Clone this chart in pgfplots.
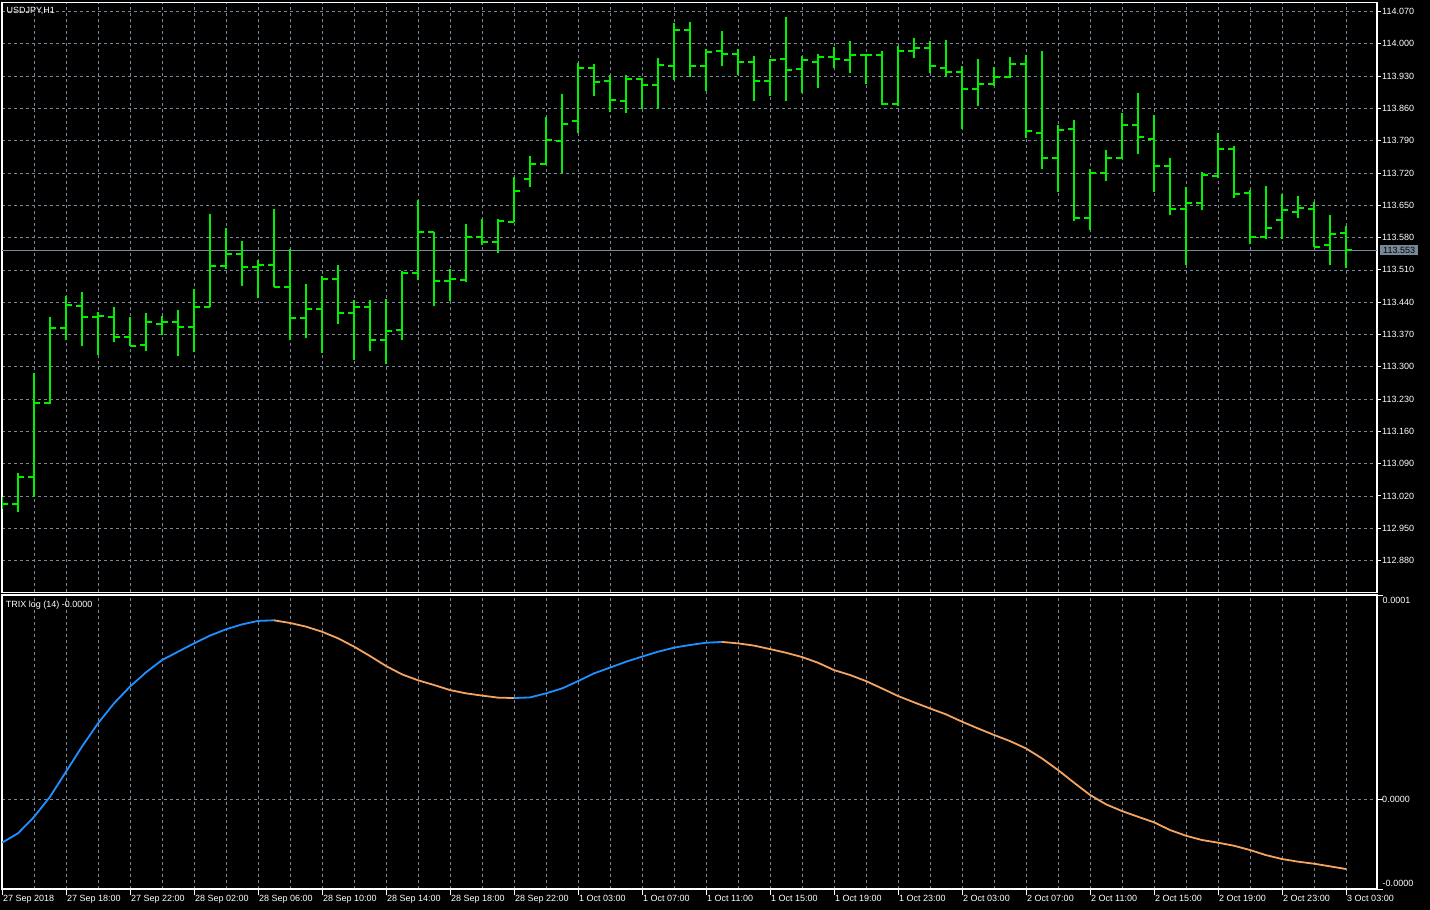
\documentclass[border=0pt]{standalone}
\usepackage{fontspec}
\setmainfont{Liberation Sans}
\usepackage{pgfplots}
\usepackage{pgfplotstable}
\pgfplotsset{compat=1.18}

\definecolor{barcol}{RGB}{0,240,0}
\definecolor{gridcol}{RGB}{119,136,153}
\definecolor{trixup}{RGB}{30,144,255}
\definecolor{trixdn}{RGB}{244,164,96}

% USDJPY H1 bars: index, open, high, low, close
\pgfplotstableread{
k o h l c
0 113.003 113.017 112.992 113.003
1 113.003 113.069 112.986 113.062
2 113.062 113.286 113.017 113.222
3 113.222 113.408 113.219 113.383
4 113.383 113.453 113.358 113.435
5 113.432 113.462 113.344 113.407
6 113.407 113.418 113.326 113.411
7 113.408 113.430 113.353 113.365
8 113.365 113.408 113.345 113.345
9 113.348 113.417 113.335 113.396
10 113.393 113.410 113.368 113.397
11 113.396 113.423 113.324 113.387
12 113.387 113.468 113.332 113.430
13 113.430 113.631 113.430 113.519
14 113.519 113.600 113.512 113.545
15 113.545 113.572 113.475 113.517
16 113.517 113.531 113.450 113.521
17 113.521 113.642 113.473 113.474
18 113.474 113.555 113.358 113.405
19 113.405 113.480 113.363 113.426
20 113.426 113.497 113.330 113.490
21 113.490 113.520 113.393 113.417
22 113.417 113.445 113.314 113.430
23 113.430 113.445 113.335 113.357
24 113.358 113.448 113.305 113.378
25 113.380 113.508 113.358 113.504
26 113.504 113.661 113.488 113.592
27 113.592 113.593 113.432 113.486
28 113.486 113.511 113.442 113.490
29 113.489 113.610 113.484 113.582
30 113.582 113.621 113.563 113.571
31 113.571 113.621 113.546 113.616
32 113.614 113.711 113.614 113.680
33 113.708 113.757 113.690 113.740
34 113.740 113.842 113.737 113.792
35 113.790 113.891 113.719 113.827
36 113.833 113.958 113.807 113.948
37 113.948 113.956 113.886 113.917
38 113.920 113.933 113.852 113.878
39 113.876 113.932 113.849 113.924
40 113.924 113.926 113.859 113.911
41 113.911 113.969 113.859 113.955
42 113.952 114.045 113.922 114.029
43 114.029 114.048 113.929 113.952
44 113.952 113.989 113.898 113.983
45 113.985 114.028 113.951 113.978
46 113.978 113.989 113.932 113.961
47 113.961 113.974 113.877 113.920
48 113.920 113.968 113.886 113.966
49 113.967 114.058 113.877 113.944
50 113.946 113.973 113.893 113.964
51 113.961 113.977 113.905 113.972
52 113.972 113.993 113.947 113.967
53 113.964 114.006 113.937 113.976
54 113.976 113.979 113.912 113.976
55 113.976 113.985 113.868 113.869
56 113.869 113.995 113.866 113.985
57 113.985 114.013 113.970 113.990
58 113.991 114.007 113.936 113.951
59 113.948 114.008 113.929 113.940
60 113.940 113.952 113.815 113.903
61 113.903 113.967 113.866 113.914
62 113.914 113.950 113.909 113.928
63 113.928 113.971 113.925 113.956
64 113.956 113.975 113.796 113.810
65 113.807 113.985 113.729 113.753
66 113.753 113.824 113.679 113.814
67 113.815 113.835 113.616 113.623
68 113.623 113.728 113.597 113.721
69 113.721 113.770 113.703 113.752
70 113.753 113.849 113.750 113.825
71 113.825 113.893 113.762 113.797
72 113.794 113.845 113.679 113.736
73 113.736 113.753 113.628 113.642
74 113.642 113.689 113.521 113.656
75 113.656 113.722 113.640 113.716
76 113.714 113.806 113.709 113.773
77 113.773 113.778 113.665 113.674
78 113.677 113.683 113.566 113.581
79 113.581 113.691 113.578 113.600
80 113.619 113.674 113.577 113.639
81 113.636 113.671 113.623 113.645
82 113.642 113.658 113.559 113.559
83 113.563 113.629 113.521 113.587
84 113.589 113.606 113.514 113.553
}\ohlc

% TRIX log(14), in units of 1e-6
\pgfplotstableread{
k v
0 -21.4
1 -16.8
2 -8.8
3 1.1
4 13.4
5 25.7
6 37.1
7 46.9
8 55.1
9 62.1
10 68.1
11 72.2
12 76.3
13 80.1
14 83.2
15 85.6
16 87.3
17 87.6
18 86.3
19 84.5
20 82.0
21 78.8
22 74.7
23 70.1
24 65.2
25 61.1
26 58.2
27 55.9
28 53.4
29 51.8
30 50.7
31 49.7
32 49.5
33 49.8
34 51.8
35 54.2
36 57.8
37 61.6
38 64.4
39 67.3
40 69.8
41 72.2
42 74.2
43 75.5
44 76.6
45 77.0
46 76.3
47 75.2
48 73.5
49 71.7
50 69.6
51 66.8
52 63.2
53 60.8
54 57.8
55 54.2
56 50.5
57 47.4
58 44.4
59 41.5
60 37.9
61 34.6
62 31.4
63 28.4
64 24.8
65 19.9
66 14.2
67 8.0
68 2.0
69 -2.6
70 -5.9
71 -8.7
72 -11.4
73 -15.2
74 -18.0
75 -20.1
76 -21.4
77 -22.9
78 -25.0
79 -27.5
80 -29.4
81 -30.7
82 -31.7
83 -33.0
84 -34.3
}\trix

\pgfplotsset{
  mtaxis/.style={
    scale only axis, width=1375pt,
    xmin=0, xmax=85.9375,
    axis line style={white, line width=1.2pt},
    tick style={white, line width=1pt},
    tick align=outside,
    ytick pos=right,
    grid style={gridcol, line width=0.8pt, dash pattern=on 3pt off 3pt},
    tick label style={white, font=\fontsize{9}{10}\selectfont},
    /pgf/number format/assume math mode=true,
    clip mode=individual,
  },
}

\begin{document}
\begin{tikzpicture}[font=\fontsize{9}{10}\selectfont]
\fill[black] (0,0) rectangle (1430pt,-910pt);
\path[use as bounding box] (0,0) rectangle (1430pt,-910pt);

% price panel
\begin{axis}[mtaxis,
  at={(2pt,-2.3pt)}, anchor=north west, height=590.1pt,
  ymin=112.811, ymax=114.090,
  ytick={112.88,112.95,113.02,113.09,113.16,113.23,113.30,113.37,113.44,113.51,113.58,113.65,113.72,113.79,113.86,113.93,114.00,114.07},
  y tick label style={anchor=west, inner sep=1pt,
    /pgf/number format/.cd, fixed, fixed zerofill, precision=3},
  xtick={2,4,...,84}, xticklabels={}, xtick style={draw=none},
  xmajorgrids, ymajorgrids,
  major tick length=4pt,
]
\addplot[gridcol, line width=1pt] coordinates {(0,113.553) (85.9375,113.553)};
\addplot[barcol, line width=2pt, quiver={u=0, v=\thisrow{h}-\thisrow{l}}] table[x=k, y=l] {\ohlc};
\addplot[barcol, line width=2pt, quiver={u=-0.36, v=0}] table[x=k, y=o] {\ohlc};
\addplot[barcol, line width=2pt, quiver={u=0.36, v=0}] table[x=k, y=c] {\ohlc};
\node[anchor=base west, white, inner sep=0pt] at ([xshift=4.4pt, yshift=-11.1pt]rel axis cs:0,1) {USDJPY,H1};
\node[anchor=west, fill=gridcol, text=black, inner xsep=3pt, inner ysep=2pt] at ([xshift=3pt]axis cs:85.9375,113.553) {113.553};
\end{axis}

% TRIX panel
\begin{axis}[mtaxis,
  at={(2pt,-595pt)}, anchor=north west, height=294pt,
  ymin=-44.1, ymax=100,
  ytick={0}, yticklabels={0.0000},
  y tick label style={anchor=west, inner sep=1pt, xshift=-2pt},
  extra y ticks={-44.1,100}, extra y tick labels={},
  extra y tick style={grid=none},
  xtick={0,4,...,84},
  xticklabels={27 Sep 2018, 27 Sep 18:00, 27 Sep 22:00, 28 Sep 02:00, 28 Sep 06:00, 28 Sep 10:00, 28 Sep 14:00, 28 Sep 18:00, 28 Sep 22:00, 1 Oct 03:00, 1 Oct 07:00, 1 Oct 11:00, 1 Oct 15:00, 1 Oct 19:00, 1 Oct 23:00, 2 Oct 03:00, 2 Oct 07:00, 2 Oct 11:00, 2 Oct 15:00, 2 Oct 19:00, 2 Oct 23:00, 3 Oct 03:00},
  x tick label style={anchor=north west, inner sep=0pt, xshift=1pt},
  minor xtick={2,6,...,82},
  xtick pos=bottom,
  xmajorgrids, xminorgrids, ymajorgrids,
  minor grid style={gridcol, line width=0.8pt, dash pattern=on 3pt off 3pt},
  minor tick length=0pt,
  major tick length=6pt,
]
\addplot[trixup, line width=1.8pt, restrict x to domain=0:17] table[x=k, y=v] {\trix};
\addplot[trixdn, line width=1.8pt, restrict x to domain=17:32] table[x=k, y=v] {\trix};
\addplot[trixup, line width=1.8pt, restrict x to domain=32:45] table[x=k, y=v] {\trix};
\addplot[trixdn, line width=1.8pt, restrict x to domain=45:84] table[x=k, y=v] {\trix};
\node[anchor=base west, white, inner sep=0pt] at ([xshift=3.7pt, yshift=-12.3pt]rel axis cs:0,1) {TRIX log (14) -0.0000};
\node[anchor=north west, white, inner sep=0pt] at ([xshift=5.5pt, yshift=-2pt]rel axis cs:1,1) {0.0001};
\node[anchor=base west, white, inner sep=0pt] at ([xshift=5.5pt, yshift=2.3pt]rel axis cs:1,0) {-0.0000};
\end{axis}
\end{tikzpicture}
\end{document}
